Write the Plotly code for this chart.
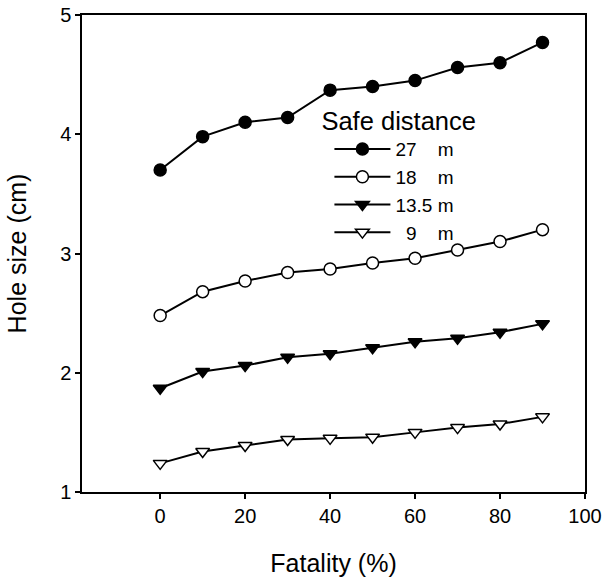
import plotly.graph_objects as go

fatality = [0, 10, 20, 30, 40, 50, 60, 70, 80, 90]
hole_27 = [3.70, 3.98, 4.10, 4.14, 4.37, 4.40, 4.45, 4.56, 4.60, 4.77]
hole_18 = [2.48, 2.68, 2.77, 2.84, 2.87, 2.92, 2.96, 3.03, 3.10, 3.20]
hole_135 = [1.87, 2.01, 2.06, 2.13, 2.16, 2.21, 2.26, 2.29, 2.34, 2.41]
hole_9 = [1.24, 1.34, 1.39, 1.44, 1.45, 1.46, 1.50, 1.54, 1.57, 1.63]

NB = "\u00a0"
labels = ["27" + NB * 4 + "m", "18" + NB * 4 + "m", "13.5" + NB + "m", NB * 2 + "9" + NB * 4 + "m"]
series = [hole_27, hole_18, hole_135, hole_9]
symbols = ["circle", "circle", "triangle-down", "triangle-down"]
fills = ["black", "white", "black", "white"]

FONT = "Liberation Sans, Arial, sans-serif"

fig = go.Figure()
for lab, ys, sym, fc in zip(labels, series, symbols, fills):
    fig.add_trace(go.Scatter(
        x=fatality, y=ys, name=lab, mode="lines+markers",
        line=dict(color="black", width=2),
        marker=dict(symbol=sym, size=12, color=fc, line=dict(color="black", width=1.5)),
    ))

axis_common = dict(
    showgrid=False, zeroline=False, showline=True, linecolor="black", linewidth=1.5,
    mirror=True, ticks="outside", ticklen=5, tickwidth=1.5, tickcolor="black",
    tickfont=dict(family=FONT, size=20, color="black"), automargin=False,
    ticklabeloverflow="allow",
)

fig.update_xaxes(range=[-18.4, 100], tickvals=[0, 20, 40, 60, 80, 100],
                 title=dict(text="Fatality (%)", font=dict(family=FONT, size=25, color="black"), standoff=29),
                 **axis_common)
fig.update_yaxes(range=[1, 5], tickvals=[1, 2, 3, 4, 5],
                 title=dict(text="Hole size (cm)", font=dict(family=FONT, size=25, color="black"), standoff=26),
                 **axis_common)

fig.update_layout(
    width=604, height=584,
    margin=dict(l=82, r=19, t=15, b=92),
    plot_bgcolor="white", paper_bgcolor="white",
    font=dict(family=FONT, color="black"),
    legend=dict(
        title=dict(text="Safe distance", font=dict(family=FONT, size=25.5, color="black")),
        font=dict(family=FONT, size=19, color="black"),
        x=0.472, y=0.828, xanchor="left", yanchor="top",
        bgcolor="rgba(0,0,0,0)", itemwidth=56, indentation=10, tracegroupgap=0,
    ),
    showlegend=True,
)

fig.write_html("out.html", config={"displayModeBar": False},
               post_script="document.body.style.margin='0';")
